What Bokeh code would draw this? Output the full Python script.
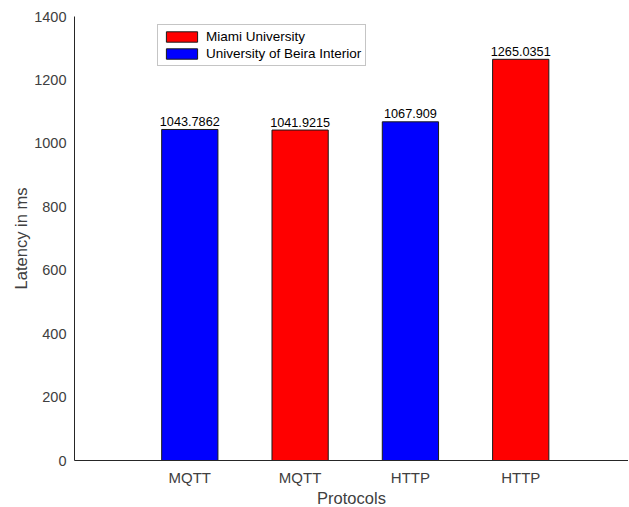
from bokeh.plotting import figure
from bokeh.models import ColumnDataSource, FixedTicker, Range1d, Legend, LegendItem
from bokeh.embed import file_html
from bokeh.resources import INLINE

categories = ["MQTT", "MQTT", "HTTP", "HTTP"]
values = [1043.7862, 1041.9215, 1067.909, 1265.0351]
labels = ["1043.7862", "1041.9215", "1067.909", "1265.0351"]
groups = ["University of Beira Interior", "Miami University", "University of Beira Interior", "Miami University"]
colors = ["#0000ff", "#ff0000", "#0000ff", "#ff0000"]
yticks = [0, 200, 400, 600, 800, 1000, 1200, 1400]

xs = [i + 1 for i in range(len(categories))]

FONT = "Liberation Sans"

p = figure(frame_width=554, frame_height=444, output_backend="svg", toolbar_location=None,
           x_range=Range1d(-0.0453, 4.977), y_range=Range1d(0, 1400),
           min_border_left=74, min_border_top=16, min_border_right=0, min_border_bottom=0)
p.outline_line_color = None
p.grid.grid_line_color = None
p.background_fill_color = "white"

renderers = {}
for g in ["Miami University", "University of Beira Interior"]:
    idx = [i for i in range(len(xs)) if groups[i] == g]
    src = ColumnDataSource(dict(x=[xs[i] for i in idx], top=[values[i] for i in idx],
                                color=[colors[i] for i in idx],
                                lab=[labels[i] for i in idx]))
    r = p.vbar(x="x", top="top", width=0.51, bottom=0, source=src,
               fill_color="color", line_color="#1a1a1a", line_width=1)
    renderers[g] = r
    p.text(x="x", y="top", text="lab", source=src, text_align="center",
           text_baseline="bottom", text_font_size="12.7px", text_color="black",
           text_font={"value": FONT}, y_offset=-3.5)

legend = Legend(items=[LegendItem(label="Miami University", renderers=[renderers["Miami University"]]),
                       LegendItem(label="University of Beira Interior", renderers=[renderers["University of Beira Interior"]])],
                location=(83, 394))
legend.glyph_width = 39
legend.glyph_height = 13
legend.label_height = 13
legend.spacing = 2
legend.padding = 4
legend.margin = 0
legend.label_standoff = 5
legend.label_text_font = FONT
legend.label_text_font_size = "13.5px"
legend.label_text_color = "black"
legend.border_line_color = "#8c8c8c"
legend.border_line_width = 1
legend.background_fill_color = "white"
legend.background_fill_alpha = 1
p.add_layout(legend, "center")

p.xaxis.ticker = FixedTicker(ticks=xs)
p.xaxis.major_label_overrides = {x: c for x, c in zip(xs, categories)}
p.xaxis.minor_tick_line_color = None
p.xaxis.major_tick_in = 0
p.xaxis.major_tick_out = 0
p.xaxis.axis_label = "Protocols"
p.xaxis.major_label_standoff = 8
p.xaxis.axis_label_standoff = 0

p.yaxis.ticker = FixedTicker(ticks=yticks)
p.yaxis.minor_tick_line_color = None
p.yaxis.major_tick_in = 0
p.yaxis.major_tick_out = 4
p.yaxis.axis_label = "Latency in ms"
p.yaxis.major_label_standoff = 4
p.yaxis.axis_label_standoff = 1

for ax in (p.xaxis, p.yaxis):
    ax.axis_line_color = "#262626"
    ax.axis_line_width = 1
    ax.major_tick_line_color = "#262626" if ax is p.yaxis else None
    ax.major_label_text_font = FONT
    ax.major_label_text_color = "#404040"
    ax.axis_label_text_font = FONT
    ax.axis_label_text_font_size = "16.5px"
    ax.axis_label_text_font_style = "normal"
    ax.axis_label_text_color = "#404040"
p.xaxis.major_label_text_font_size = "15px"
p.yaxis.major_label_text_font_size = "14.5px"

open("out.html", "w").write(file_html(p, INLINE))
